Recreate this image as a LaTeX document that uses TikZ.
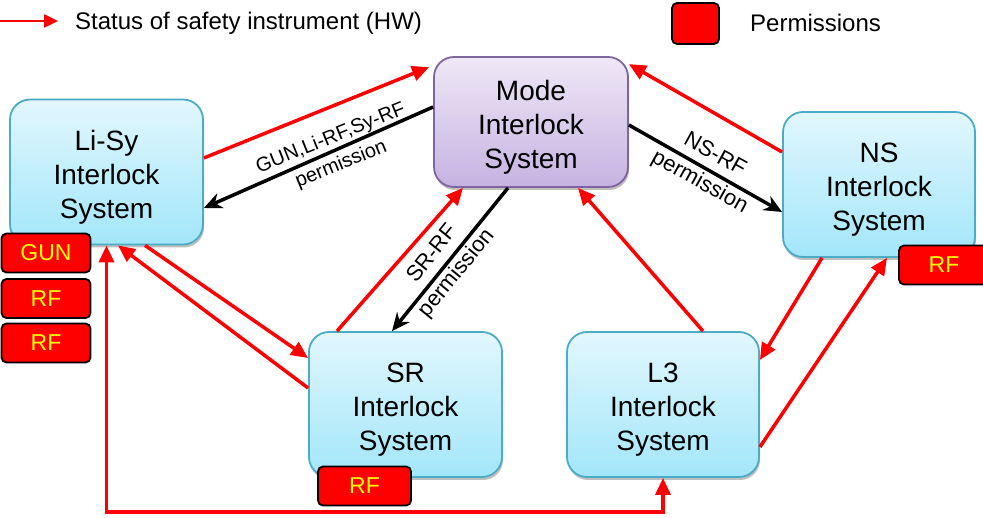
\documentclass[tikz,border=0pt]{standalone}
\usepackage{fontspec}
\setmainfont{Liberation Sans}
\usetikzlibrary{arrows.meta,shadows}
\definecolor{sysTop}{HTML}{E2F7FD}
\definecolor{sysBot}{HTML}{A2E6FA}
\definecolor{sysBorder}{HTML}{4BACC6}
\definecolor{modeTop}{HTML}{EFE8F7}
\definecolor{modeBot}{HTML}{C6B2E1}
\definecolor{modeBorder}{HTML}{8064A2}
\definecolor{permYellow}{HTML}{FFFF00}
% tall first-line strut so the three-line titles sit a little low in their boxes
\newcommand\titlestrut{\rule{0pt}{30pt}}
\begin{document}
\begin{tikzpicture}[x=1pt,y=-1pt,
  sysbox/.style={draw=sysBorder, line width=1.8pt, rounded corners=20pt,
    top color=sysTop, bottom color=sysBot, minimum width=193pt, minimum height=145pt,
    align=center, inner sep=0pt, font=\fontsize{28}{34}\selectfont,
    drop shadow={shadow xshift=1pt, shadow yshift=-3pt, opacity=0.25, fill=black}},
  modebox/.style={sysbox, draw=modeBorder, top color=modeTop, bottom color=modeBot,
    minimum width=194pt, minimum height=130pt},
  permbox/.style={draw=black, line width=1.8pt, fill=red, rounded corners=5pt,
    text=permYellow, font=\fontsize{23}{27}\selectfont,
    minimum width=89pt, minimum height=39pt, inner sep=0pt},
  status/.style={draw=red, line width=3.5pt, -{Triangle[length=17pt,width=15pt]}},
  grant/.style={draw=black, line width=3.5pt, -{Stealth[length=18pt,width=16pt]}},
  lbl/.style={font=\fontsize{22}{31}\selectfont, align=center, inner sep=0pt},
  legtext/.style={anchor=west, inner sep=0pt, font=\fontsize{24}{28}\selectfont}]

\useasboundingbox (0,0) rectangle (983,518);

% legend
\coordinate (legS) at (0,21);
\coordinate (legE) at (58,21);
\draw[status, line width=2.5pt, -{Triangle[length=14pt,width=13pt]}] (legS) -- (legE);
\node[legtext] (legT) at (75,23) {Status of safety instrument (HW)};
\node[permbox, minimum width=47pt, minimum height=41pt] (legP) at (695.5,23.5) {};
\node[legtext] (legQ) at (750,23) {Permissions};

% interlock systems
\node[sysbox] (lisy) at (106.5,172) {\titlestrut Li-Sy\\Interlock\\System};
\node[modebox] (mode) at (531,122) {\titlestrut Mode\\Interlock\\System};
\node[sysbox, minimum width=192pt] (ns) at (879,184.5) {\titlestrut NS\\Interlock\\System};
\node[sysbox] (sr) at (405.5,404.5) {\titlestrut SR\\Interlock\\System};
\node[sysbox, minimum width=192pt] (l3) at (663,404.5) {\titlestrut L3\\Interlock\\System};

% status links (hardware)
\draw[status] ([yshift=14pt]lisy.east) -- ([xshift=-4pt,yshift=-11pt]mode.north west);
\draw[status] ([yshift=32.5pt]ns.west) -- ([yshift=-8pt]mode.north east);
\draw[status] ([xshift=-68.5pt]sr.north) -- ([xshift=-68pt]mode.south);
\draw[status] ([xshift=40pt]l3.north) -- ([xshift=47pt]mode.south);
\draw[status] ([xshift=-57pt]ns.south) -- ([yshift=44.5pt]l3.east);
\draw[status] ([yshift=-42.5pt]l3.east) -- ([xshift=8pt]ns.south);
\draw[status] ([xshift=38.5pt]lisy.south) -- ([yshift=46.5pt]sr.west);
\draw[status] ([yshift=16.5pt]sr.west) -- ([xshift=11.5pt]lisy.south);
\coordinate (bot) at (400,512);
\draw[status, {Triangle[length=17pt,width=15pt]}-{Triangle[length=17pt,width=15pt]}]
  (lisy.south) |- (bot) -| (l3.south);

% permission links
\draw[grant] ([yshift=15pt]mode.west) -- ([yshift=-36pt]lisy.east);
\draw[grant] ([yshift=-3pt]mode.east) -- ([yshift=-27.5pt]ns.west);
\draw[grant] ([xshift=-23pt]mode.south) -- ([xshift=-13.5pt]sr.north);

\node[lbl, rotate=22, font=\fontsize{20}{28}\selectfont] (lblLS) at (336,151.5) {GUN,Li-RF,Sy-RF\\permission};
\node[lbl, rotate=-29] (lblNS) at (707,169) {NS-RF\\permission};
\node[lbl, rotate=51] (lblSR) at (445,264) {SR-RF\\permission};

% permissions held by each system
\node[permbox] (pGun) at (46,253) {GUN};
\node[permbox] (pRF1) at (46,298.5) {RF};
\node[permbox] (pRF2) at (46,343) {RF};
\node[permbox, minimum width=90pt] (pNS) at (944,265) {RF};
\node[permbox, minimum width=93pt] (pSR) at (364.5,486) {RF};
\end{tikzpicture}
\end{document}
